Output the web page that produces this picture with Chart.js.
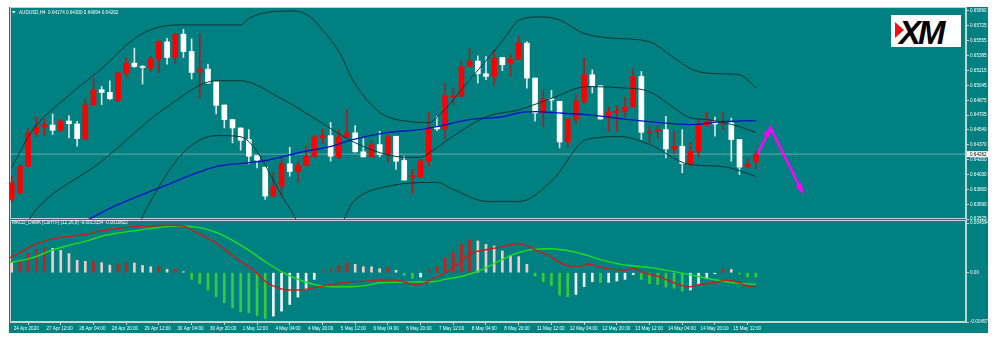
<!DOCTYPE html>
<html>
<head>
<meta charset="utf-8">
<script src="https://cdn.jsdelivr.net/npm/chart.js@4.4.1/dist/chart.umd.min.js"></script>
<style>
  html, body { margin: 0; padding: 0; background: #fff; }
  #wrap { position: relative; width: 1000px; height: 343px; overflow: hidden; }
  #bg { position: absolute; left: 9px; top: 7px; width: 979px; height: 326px; background: #008080; }
  #price { position: absolute; left: 0; top: 0; }
  #osma { position: absolute; left: 0; top: 216px; }
  #logo { position: absolute; left: 891px; top: 15px; width: 70px; height: 32px; background: #fff; overflow: hidden; }
  #logo .tri { position: absolute; left: 4px; top: 7px; width: 0; height: 0;
    border-top: 8px solid transparent; border-bottom: 8px solid transparent; border-left: 9px solid #e8141b; }
  #logo .txt { position: absolute; left: 8px; top: -1px; line-height: 33px;
    font: italic 900 33px "Liberation Sans", Arial, sans-serif; letter-spacing: -3px; color: #000; }
</style>
</head>
<body>
<div id="wrap">
  <div id="bg"></div>
  <canvas id="price" width="1000" height="225"></canvas>
  <canvas id="osma" width="1000" height="127"></canvas>
  <div id="logo"><div class="tri"></div><div class="txt">XM</div></div>
</div>
<script>
// AUDUSD H4, 24 Apr - 15 May 2020
const symbol = 'AUDUSD,H4';
const opens = [
  0.63748,0.63823,0.64126,0.64504,0.64572,0.64594,0.64534,0.64639,0.64605,0.64435,
  0.64821,0.64995,0.64964,0.64870,0.65184,0.65297,0.65259,0.65240,0.65342,0.65539,
  0.65361,0.65626,0.65429,0.65195,0.65229,0.65085,0.64821,0.64655,0.64560,0.64428,
  0.64247,0.64115,0.63786,0.63899,0.64152,0.64065,0.64137,0.64239,0.64450,0.64473,
  0.64231,0.64458,0.64504,0.64289,0.64231,0.64371,0.64258,0.64466,0.64190,0.64005,
  0.64001,0.64182,0.64572,0.64549,0.64911,0.64919,0.65259,0.65320,0.65176,0.65146,
  0.65361,0.65297,0.65342,0.65524,0.65127,0.64730,0.64893,0.64862,0.64401,0.64662,
  0.64862,0.65165,0.65040,0.64692,0.64738,0.64749,0.64798,0.65146,0.64511,0.64526,
  0.64541,0.64322,0.64352,0.64156,0.64296,0.64594,0.64628,0.64605,0.64617,0.64428,
  0.64115,0.64174
];
const highs = [
  0.64012,0.64141,0.64549,0.64685,0.64662,0.64719,0.64655,0.64700,0.64636,0.64893,
  0.65127,0.65032,0.65097,0.65195,0.65361,0.65467,0.65270,0.65372,0.65550,0.65580,
  0.65629,0.65682,0.65573,0.65626,0.65286,0.65085,0.64821,0.64655,0.64560,0.64541,
  0.64247,0.64115,0.64058,0.64228,0.64341,0.64182,0.64352,0.64473,0.64549,0.64624,
  0.64541,0.64768,0.64587,0.64439,0.64409,0.64522,0.64485,0.64466,0.64239,0.64088,
  0.64201,0.64738,0.64692,0.65063,0.65013,0.65320,0.65467,0.65380,0.65372,0.65437,
  0.65361,0.65399,0.65599,0.65542,0.65127,0.64995,0.64987,0.64862,0.64665,0.64949,
  0.65354,0.65221,0.65040,0.64798,0.64813,0.64911,0.65240,0.65202,0.64587,0.64587,
  0.64692,0.64522,0.64541,0.64390,0.64655,0.64738,0.64685,0.64738,0.64673,0.64428,
  0.64220,0.64300
];
const lows = [
  0.63718,0.63808,0.64118,0.64466,0.64473,0.64485,0.64522,0.64447,0.64352,0.64428,
  0.64813,0.64825,0.64881,0.64862,0.65134,0.65248,0.65059,0.65202,0.65191,0.65286,
  0.65297,0.65361,0.65116,0.64896,0.65063,0.64719,0.64560,0.64390,0.64307,0.64152,
  0.64107,0.63748,0.63778,0.63793,0.64012,0.63937,0.64130,0.64228,0.64383,0.64182,
  0.64209,0.64455,0.64285,0.64228,0.64228,0.64231,0.64171,0.64088,0.63967,0.63812,
  0.64001,0.64126,0.64530,0.64428,0.64825,0.64915,0.65255,0.65070,0.65108,0.65044,
  0.65210,0.65146,0.65338,0.65013,0.64636,0.64572,0.64760,0.64333,0.64341,0.64609,
  0.64836,0.64957,0.64658,0.64522,0.64522,0.64685,0.64795,0.64428,0.64390,0.64447,
  0.64220,0.64269,0.64050,0.64126,0.64231,0.64579,0.64466,0.64541,0.64182,0.64031,
  0.64107,0.64094
];
const closes = [
  0.63937,0.64126,0.64504,0.64572,0.64598,0.64534,0.64636,0.64609,0.64439,0.64821,
  0.64995,0.64964,0.64893,0.65184,0.65297,0.65259,0.65248,0.65342,0.65539,0.65361,
  0.65626,0.65429,0.65191,0.65229,0.65070,0.64817,0.64655,0.64560,0.64420,0.64239,
  0.64194,0.63786,0.63899,0.64152,0.64065,0.64137,0.64239,0.64458,0.64473,0.64239,
  0.64458,0.64504,0.64289,0.64231,0.64371,0.64258,0.64458,0.64182,0.63967,0.64012,
  0.64182,0.64560,0.64549,0.64927,0.64927,0.65259,0.65320,0.65176,0.65146,0.65354,
  0.65278,0.65342,0.65524,0.65127,0.64730,0.64889,0.64877,0.64401,0.64662,0.64862,
  0.65165,0.65040,0.64662,0.64738,0.64753,0.64798,0.65146,0.64511,0.64522,0.64541,
  0.64322,0.64352,0.64156,0.64296,0.64598,0.64632,0.64605,0.64617,0.64428,0.64115,
  0.64156,0.64262
];

// indicator lines as [bar, value]
const bbUpper = [[0,0.64111],[2.6,0.64541],[6.8,0.64915],[10.8,0.65221],[15.7,0.65618],[20.2,0.65731],
  [27.9,0.65731],[29.1,0.65811],[31.6,0.65879],[34.6,0.65890],[36.5,0.65822],[37.7,0.65709],[40.1,0.65414],
  [41.7,0.65108],[44.2,0.64802],[45.9,0.64689],[48.7,0.64632],[51.1,0.64621],[52.1,0.64689],[54.0,0.64881],
  [56.0,0.65108],[58.1,0.65335],[60.1,0.65561],[62.1,0.65788],[64.6,0.65822],[67.0,0.65788],[69.8,0.65641],
  [73.1,0.65584],[78.0,0.65539],[80.8,0.65369],[83.3,0.65221],[86.6,0.65176],[89.0,0.65165],[91,0.65017]];
const bbMiddle = [[2,0.6350],[3.1,0.63646],[10.8,0.64167],[19.0,0.64802],[25.1,0.65097],[27.9,0.65097],
  [33.2,0.64881],[37.7,0.64630],[41.7,0.64405],[47.1,0.64235],[49.9,0.64224],[51.1,0.64281],[53.9,0.64462],
  [58.1,0.64689],[62.1,0.64768],[66.2,0.64904],[70.3,0.65029],[74.4,0.65017],[78.0,0.64972],[80.8,0.64802],
  [82.9,0.64677],[85.0,0.64655],[89.0,0.64575],[91,0.64507]];
const bbLower = [[15.5,0.6345],[16.5,0.63646],[21.0,0.64281],[25.1,0.64473],[27.9,0.64462],[34.0,0.63646],
  [35.5,0.6345],[40,0.6345],[41.7,0.63714],[45.9,0.63895],[52.0,0.63941],[54.0,0.63861],[58.1,0.63725],
  [62.1,0.63725],[66.2,0.63975],[70.3,0.64428],[74.4,0.64462],[78.0,0.64371],[82.9,0.64145],[86.9,0.64122],
  [91,0.64009]];
const maLine = [[9.0,0.6350],[12.0,0.63646],[18.5,0.63895],[25.1,0.64122],[29.1,0.64167],[31.2,0.64190],
  [35.2,0.64281],[38.9,0.64349],[41.7,0.64428],[45.9,0.64507],[49.9,0.64541],[52.0,0.64575],[56.0,0.64655],
  [60.1,0.64689],[62.1,0.64734],[64.2,0.64745],[66.2,0.64734],[70.3,0.64711],[74.4,0.64666],[78.0,0.64632],
  [82.9,0.64598],[86.9,0.64632],[91,0.64643]];

// up-then-down projection drawn from the last bar
const projection = [[91.2,0.64262],[92.8,0.64561],[96.7,0.63827]];

// MACD_OsMA (12,26,9)
const osmaParams = '(12,26,9)';
const osma = [
  0.00093,0.00102,0.00180,0.00217,0.00233,0.00226,0.00208,0.00177,0.00115,0.00105,
  0.00106,0.00093,0.00071,0.00081,0.00096,0.00090,0.00068,0.00056,0.00058,0.00031,
  0.00033,0.00006,-0.00062,-0.00102,-0.00161,-0.00223,-0.00279,-0.00326,-0.00363,-0.00372,
  -0.00397,-0.00428,-0.00403,-0.00357,-0.00295,-0.00226,-0.00155,-0.00062,0.00012,0.00031,
  0.00068,0.00093,0.00078,0.00056,0.00055,0.00037,0.00047,0.00022,-0.00025,-0.00053,
  -0.00040,0.00025,0.00062,0.00140,0.00192,0.00264,0.00304,0.00295,0.00264,0.00248,
  0.00202,0.00161,0.00149,0.00078,-0.00031,-0.00084,-0.00118,-0.00208,-0.00223,-0.00202,
  -0.00130,-0.00084,-0.00093,-0.00090,-0.00078,-0.00062,-0.00019,-0.00062,-0.00102,-0.00109,
  -0.00133,-0.00146,-0.00171,-0.00161,-0.00109,-0.00056,-0.00006,0.00031,0.00030,-0.00012,
  -0.00040,-0.00041
];
const macdLine = [[-0.2,0.00140],[1.0,0.00186],[2.6,0.00254],[4.7,0.00310],[6.7,0.00335],[9.2,0.00357],
  [10.8,0.00388],[12.8,0.00409],[14.9,0.00428],[16.9,0.00434],[18.9,0.00440],[21.0,0.00434],[22.2,0.00388],
  [23.8,0.00326],[25.5,0.00248],[27.1,0.00155],[28.7,0.00068],[30.0,-0.00006],[31.2,-0.00093],[32.0,-0.00124],
  [33.6,-0.00161],[35.2,-0.00161],[36.9,-0.00140],[38.5,-0.00118],[41.4,-0.00084],[43.4,-0.00078],
  [45.0,-0.00068],[46.6,-0.00068],[47.9,-0.00084],[49.1,-0.00109],[50.3,-0.00102],[51.5,-0.00056],
  [52.8,-0.00006],[54.0,0.00047],[55.2,0.00124],[56.4,0.00186],[57.6,0.00208],[58.9,0.00226],[60.5,0.00248],
  [61.9,0.00270],[63.0,0.00248],[64.2,0.00208],[65.8,0.00155],[67.0,0.00093],[68.3,0.00062],[69.5,0.00062],
  [70.7,0.00078],[71.9,0.00053],[73.5,0.00031],[75.2,0.00025],[76.0,0.00040],[77.2,0],[78.9,-0.00031],
  [80.5,-0.00078],[81.7,-0.00115],[82.9,-0.00130],[84.1,-0.00109],[85.8,-0.00093],[87.4,-0.00071],
  [89.0,-0.00093],[89.9,-0.00124],[91,-0.0013154]];
const signalLine = [[-0.2,0.00093],[2.6,0.00140],[4.7,0.00202],[6.7,0.00248],[9.2,0.00295],[10.8,0.00335],
  [12.8,0.00366],[14.9,0.00388],[16.9,0.00409],[18.9,0.00428],[20.6,0.00434],[23.0,0.00419],[25.1,0.00372],
  [27.1,0.00295],[29.1,0.00202],[31.2,0.00093],[33.2,0],[35.2,-0.00068],[37.3,-0.00115],[39.3,-0.00130],
  [41.4,-0.00130],[43.4,-0.00118],[45.0,-0.00093],[49.1,-0.00087],[51.5,-0.00084],[53.0,-0.00062],
  [55.2,-0.00031],[57.6,0.00031],[59.6,0.00109],[61.7,0.00180],[63.7,0.00217],[65.8,0.00223],[67.8,0.00208],
  [69.9,0.00171],[71.9,0.00124],[73.9,0.00087],[76.0,0.00062],[78.1,0.00047],[80.1,0.00022],[82.1,-0.00006],
  [84.2,-0.00040],[86.2,-0.00068],[88.2,-0.00093],[91,-0.0010822]];

// axes
const xTickLabels = ['24 Apr 2020','27 Apr 12:00','28 Apr 04:00','28 Apr 20:00','29 Apr 12:00','30 Apr 04:00',
  '30 Apr 20:00','1 May 12:00','4 May 04:00','4 May 20:00','5 May 12:00','6 May 04:00','6 May 20:00',
  '7 May 12:00','8 May 04:00','8 May 20:00','11 May 12:00','12 May 04:00','12 May 20:00','13 May 12:00',
  '14 May 04:00','14 May 20:00','15 May 12:00'];
const xTickStep = 4;
const priceTicks = [0.65890,0.65725,0.65555,0.65385,0.65215,0.65045,0.64875,0.64705,0.64540,0.64370,
  0.64200,0.64030,0.63860,0.63690,0.63525];
const osmaTicks = [0.004594, 0, -0.004578];
const osmaTickLabels = ['0.004594', '0.00', '-0.004578'];

const X_MIN = -0.21, X_MAX = 116.7;
const FG = '#c4d2d2';
const FONT = '"Liberation Sans", Arial, sans-serif';
const last = closes.length - 1;
const pts = arr => arr.map(p => ({ x: p[0], y: p[1] }));

const osmaColors = osma.map((v, i) => {
  const prev = i ? osma[i - 1] : v;
  if (v >= 0) return v > prev ? '#d41c1c' : '#f2c9c9';
  return v < prev ? '#3cc83c' : '#eef6f6';
});
const isUp = closes.map((c, i) => c >= opens[i]);

// light frame around each pane
const paneFrame = {
  id: 'paneFrame',
  beforeDatasetsDraw(chart) {
    const { ctx, chartArea: a } = chart;
    ctx.save();
    ctx.strokeStyle = FG;
    ctx.lineWidth = 1;
    ctx.strokeRect(Math.round(a.left) + 0.5, Math.round(a.top) + 0.5, Math.round(a.width) - 1, Math.round(a.height) - 1);
    ctx.restore();
  }
};

// header line + current price box on the price pane
const priceHeader = {
  id: 'priceHeader',
  afterDraw(chart) {
    const { ctx, chartArea: a, scales } = chart;
    ctx.save();
    ctx.fillStyle = '#fff';
    ctx.beginPath();
    ctx.moveTo(a.left + 2, 11); ctx.lineTo(a.left + 5.5, 11); ctx.lineTo(a.left + 3.75, 13.5);
    ctx.fill();
    ctx.font = '4.6px ' + FONT;
    ctx.textBaseline = 'middle';
    const txt = symbol + '  ' + [opens[last], highs[last], lows[last], closes[last]].map(v => v.toFixed(5)).join(' ');
    ctx.fillText(txt, a.left + 9, 12.5);

    const y = scales.y.getPixelForValue(closes[last]);
    ctx.fillStyle = '#fff';
    ctx.fillRect(a.right + 1, y - 3, 21, 6);
    ctx.fillStyle = '#000';
    ctx.fillText(closes[last].toFixed(5), a.right + 4, y + 0.3);
    ctx.restore();
  }
};

// arrowheads at the end of each projection leg
const arrowHeads = {
  id: 'arrowHeads',
  afterDatasetsDraw(chart) {
    const p = chart.getDatasetMeta(0).data;
    const ctx = chart.ctx;
    ctx.save();
    ctx.fillStyle = '#ff00ff';
    for (let k = 1; k < p.length; k++) {
      const a = p[k - 1], b = p[k];
      const ang = Math.atan2(b.y - a.y, b.x - a.x);
      const c = Math.cos(ang), s = Math.sin(ang);
      ctx.beginPath();
      ctx.moveTo(b.x + 2 * c, b.y + 2 * s);
      ctx.lineTo(b.x - 9 * c + 3.5 * s, b.y - 9 * s - 3.5 * c);
      ctx.lineTo(b.x - 9 * c - 3.5 * s, b.y - 9 * s + 3.5 * c);
      ctx.closePath();
      ctx.fill();
    }
    ctx.restore();
  }
};

const osmaHeader = {
  id: 'osmaHeader',
  afterDraw(chart) {
    const { ctx, chartArea: a } = chart;
    const m = macdLine[macdLine.length - 1][1], s = signalLine[signalLine.length - 1][1];
    ctx.save();
    ctx.fillStyle = '#fff';
    ctx.font = '4.6px ' + FONT;
    ctx.textBaseline = 'middle';
    ctx.fillText('MACD_OsMA [CurrTF] ' + osmaParams + ' ' + m.toFixed(7) + ' ' + s.toFixed(7), a.left + 2, 6.8);
    ctx.restore();
  }
};

const lineStyle = (data, color, width) => ({
  type: 'line', data: pts(data), borderColor: color, borderWidth: width,
  pointRadius: 0, cubicInterpolationMode: 'monotone', order: 0
});

const rightAxis = (extra) => Object.assign({
  position: 'right',
  afterFit: s => { s.width = 34; },
  ticks: { color: '#fff', font: { size: 4.6, family: FONT }, padding: 1 },
  grid: { drawOnChartArea: false, tickLength: 3, color: FG },
  border: { color: FG }
}, extra);

new Chart(document.getElementById('price'), {
  type: 'bar',
  data: {
    datasets: [
      { type: 'line', data: pts(projection), borderColor: '#ff00ff', borderWidth: 2.5, pointRadius: 0, order: -1 },
      lineStyle(bbUpper, '#0e3434', 1),
      lineStyle(bbMiddle, '#0e3434', 1),
      lineStyle(bbLower, '#0e3434', 1),
      lineStyle(maLine, '#0010c8', 1.3),
      { data: opens.map((o, i) => ({ x: i, y: [o, closes[i]] })),
        backgroundColor: isUp.map(u => u ? '#ff0000' : '#ffffff'),
        barThickness: 5, minBarLength: 1, grouped: false, order: 1 },
      { data: lows.map((l, i) => ({ x: i, y: [l, highs[i]] })),
        backgroundColor: isUp.map(u => u ? '#b01c1c' : '#d8e4e4'),
        barThickness: 1, grouped: false, order: 2 },
      { type: 'line', data: [{ x: X_MIN, y: closes[last] }, { x: X_MAX, y: closes[last] }],
        borderColor: 'rgba(190,210,210,0.55)', borderWidth: 1, pointRadius: 0, order: 5 }
    ]
  },
  options: {
    responsive: false, animation: false, devicePixelRatio: 1,
    layout: { padding: { left: 10, right: 0, top: 7, bottom: 6 } },
    plugins: { legend: { display: false }, tooltip: { enabled: false } },
    scales: {
      x: { type: 'linear', display: false, min: X_MIN, max: X_MAX, offset: false },
      y: rightAxis({
        min: 0.63525, max: 0.65935,
        afterBuildTicks: s => { s.ticks = priceTicks.map(v => ({ value: v })); },
        ticks: { color: '#fff', font: { size: 4.6, family: FONT }, padding: 1, callback: v => v.toFixed(5) }
      })
    }
  },
  plugins: [paneFrame, priceHeader, arrowHeads]
});

new Chart(document.getElementById('osma'), {
  type: 'bar',
  data: {
    datasets: [
      lineStyle(macdLine, '#d21a1a', 1.4),
      lineStyle(signalLine, '#1ee01e', 1.4),
      { data: osma.map((v, i) => ({ x: i, y: v })), backgroundColor: osmaColors,
        barThickness: 2, minBarLength: 1, grouped: false, order: 1 }
    ]
  },
  options: {
    responsive: false, animation: false, devicePixelRatio: 1,
    layout: { padding: { left: 10, right: 0, top: 4, bottom: 10 } },
    plugins: { legend: { display: false }, tooltip: { enabled: false } },
    scales: {
      x: {
        type: 'linear', min: X_MIN, max: X_MAX, offset: false,
        afterBuildTicks: s => { s.ticks = xTickLabels.map((t, k) => ({ value: k * xTickStep })); },
        afterFit: s => { s.height = 11; },
        ticks: { color: '#fff', font: { size: 4.6, family: FONT }, align: 'start', labelOffset: 2,
                 padding: 1, maxRotation: 0, autoSkip: false, callback: (v, i) => xTickLabels[i] },
        grid: { drawOnChartArea: false, tickLength: 3, color: FG },
        border: { color: FG }
      },
      y: rightAxis({
        min: -0.004578, max: 0.004894,
        afterBuildTicks: s => { s.ticks = osmaTicks.map(v => ({ value: v })); },
        ticks: { color: '#fff', font: { size: 4.6, family: FONT }, padding: 1, callback: (v, i) => osmaTickLabels[i] }
      })
    }
  },
  plugins: [paneFrame, osmaHeader]
});
</script>
</body>
</html>
